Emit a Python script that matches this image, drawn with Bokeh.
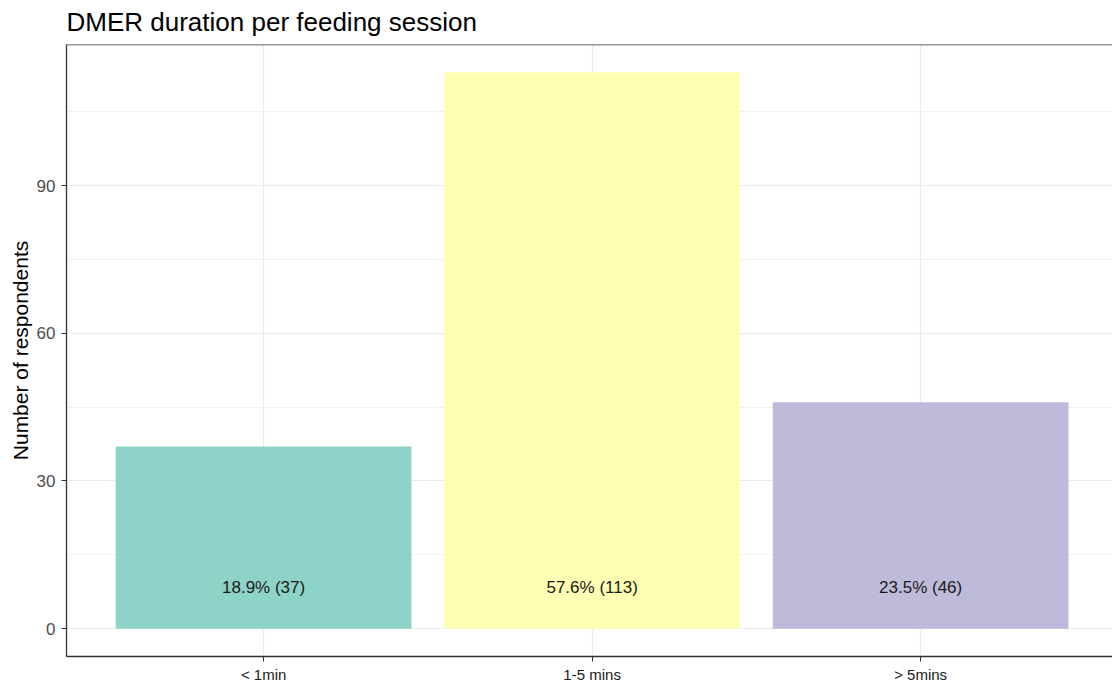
from bokeh.plotting import figure
from bokeh.models import Range1d, FixedTicker, Span, ColumnDataSource
from bokeh.embed import file_html
from bokeh.resources import INLINE
from bokeh.core.properties import value

categories = ["< 1min", "1-5 mins", "> 5mins"]
counts = [37, 113, 46]
percents = [18.9, 57.6, 23.5]
colors = ["#8DD3C7", "#FFFFB3", "#BEBADA"]
title_text = "DMER duration per feeding session"
y_label = "Number of respondents"
y_ticks = [0, 30, 60, 90]
y_minor = [15, 45, 75, 105]
label_y = 8.3

xs = list(range(1, len(categories) + 1))
labels = [f"{p}% ({c})" for p, c in zip(percents, counts)]
src = ColumnDataSource(dict(x=xs, top=counts, color=colors, label=labels,
                            ly=[label_y] * len(xs)))

ymax = max(counts)
y0, y1 = -0.05 * ymax, ymax * 1.05

FONT = "Liberation Sans"

p = figure(width=1112, height=691, output_backend="svg", toolbar_location=None,
           x_range=Range1d(0.4, 3.584), y_range=Range1d(y0, y1),
           min_border_left=66, min_border_top=44, min_border_bottom=35,
           min_border_right=0)

p.title.text = title_text
p.title.text_font = FONT
p.title.text_font_size = "26px"
p.title.text_font_style = "normal"
p.title.text_color = "#000000"
p.title.vertical_align = "top"
p.title.standoff = 12
p.title.offset = 0

p.vbar(x="x", top="top", bottom=0, width=0.9, color="color", line_color=None, source=src)
p.text(x="x", y="ly", text="label", source=src, text_align="center",
       text_baseline="middle", text_font=value(FONT), text_font_size="17px",
       text_color="#1A1A1A")

p.outline_line_color = None
p.background_fill_color = "white"
p.border_fill_color = "white"

# grids
p.xgrid.ticker = FixedTicker(ticks=xs)
p.xgrid.grid_line_color = "#EBEBEB"
p.xgrid.grid_line_width = 1.2
p.ygrid.ticker = FixedTicker(ticks=y_ticks, minor_ticks=y_minor)
p.ygrid.grid_line_color = "#EBEBEB"
p.ygrid.grid_line_width = 1.2
p.ygrid.minor_grid_line_color = "#EBEBEB"
p.ygrid.minor_grid_line_width = 0.7

# axes
p.xaxis.ticker = FixedTicker(ticks=xs)
p.xaxis.major_label_overrides = {x: c for x, c in zip(xs, categories)}
p.xaxis.major_label_text_font = FONT
p.xaxis.major_label_text_font_size = "15px"
p.xaxis.major_label_text_color = "#1A1A1A"
p.xaxis.major_tick_line_color = "#333333"
p.xaxis.major_tick_out = 5
p.xaxis.major_tick_in = 0
p.xaxis.minor_tick_line_color = None
p.xaxis.axis_line_color = "#333333"
p.xaxis.axis_line_width = 1.3
p.xaxis.major_label_standoff = 4

p.yaxis.ticker = FixedTicker(ticks=y_ticks)
p.yaxis.major_label_text_font = FONT
p.yaxis.major_label_text_font_size = "17px"
p.yaxis.major_label_text_color = "#4D4D4D"
p.yaxis.major_tick_line_color = "#333333"
p.yaxis.major_tick_out = 5
p.yaxis.major_tick_in = 0
p.yaxis.minor_tick_line_color = None
p.yaxis.axis_line_color = "#333333"
p.yaxis.axis_line_width = 1.3
p.yaxis.major_label_standoff = 6
p.yaxis.axis_label = y_label
p.yaxis.axis_label_text_font = FONT
p.yaxis.axis_label_text_font_size = "21px"
p.yaxis.axis_label_text_font_style = "normal"
p.yaxis.axis_label_text_color = "#000000"
p.yaxis.axis_label_standoff = 2

p.add_layout(Span(location=y1, dimension="width", line_color="#333333", line_width=1.3))

open("out.html", "w").write(file_html(p, INLINE))
